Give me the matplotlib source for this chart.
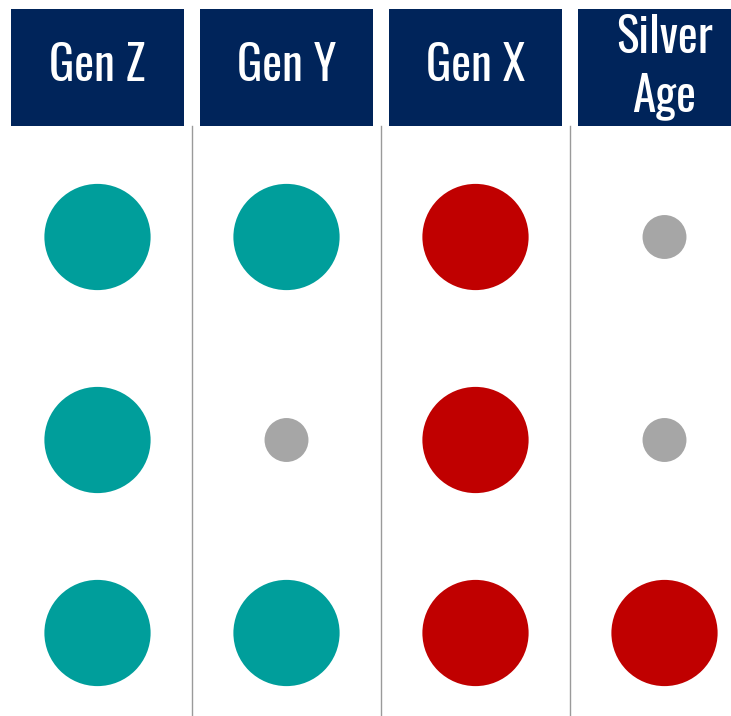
import matplotlib
matplotlib.use("Agg")
import matplotlib.pyplot as plt
from matplotlib.patches import Rectangle

# ---- data ----
generations = ["Gen Z", "Gen Y", "Gen X", "Silver\nAge"]
# one status per row (top to bottom) for each generation
gen_z = ["up", "up", "up"]
gen_y = ["up", "flat", "up"]
gen_x = ["down", "down", "down"]
silver_age = ["flat", "flat", "down"]
statuses = [gen_z, gen_y, gen_x, silver_age]

status_color = {"up": "#009E9B", "down": "#C00000", "flat": "#A6A6A6"}
status_size = {"up": 5850, "down": 5850, "flat": 1000}

NAVY = "#00245A"
FONT = "Oswald"

W, H = 731, 716
fig = plt.figure(figsize=(W / 100, H / 100), dpi=100)
ax = fig.add_axes([0, 0, 1, 1])
ax.set_xlim(0, W)
ax.set_ylim(H, 0)
ax.axis("off")

col_x0 = 97.5
col_dx = 189
box_w = 173
box_top, box_bot = 9, 126
row_y = [237, 440, 633]

for i, (name, vals) in enumerate(zip(generations, statuses)):
    cx = col_x0 + i * col_dx
    ax.add_patch(Rectangle((cx - box_w / 2, box_top), box_w, box_bot - box_top,
                           facecolor=NAVY, edgecolor="none", zorder=2))
    if "\n" in name:
        l1, l2 = name.split("\n")
        ax.text(cx, 53, l1, color="white", ha="center", va="baseline",
                fontsize=34, family=FONT, zorder=3)
        ax.text(cx, 111, l2, color="white", ha="center", va="baseline",
                fontsize=34, family=FONT, zorder=3)
    else:
        ax.text(cx, 81, name, color="white", ha="center", va="baseline",
                fontsize=34, family=FONT, zorder=3)
    if i > 0:
        dx = cx - col_dx / 2
        ax.plot([dx, dx], [box_bot, H], color="#9A9A9A", lw=1.0, zorder=1)
    ax.scatter([cx] * len(vals), row_y,
               s=[status_size[v] for v in vals],
               c=[status_color[v] for v in vals],
               linewidths=0, zorder=3)

fig.savefig("out.png", dpi=100)
